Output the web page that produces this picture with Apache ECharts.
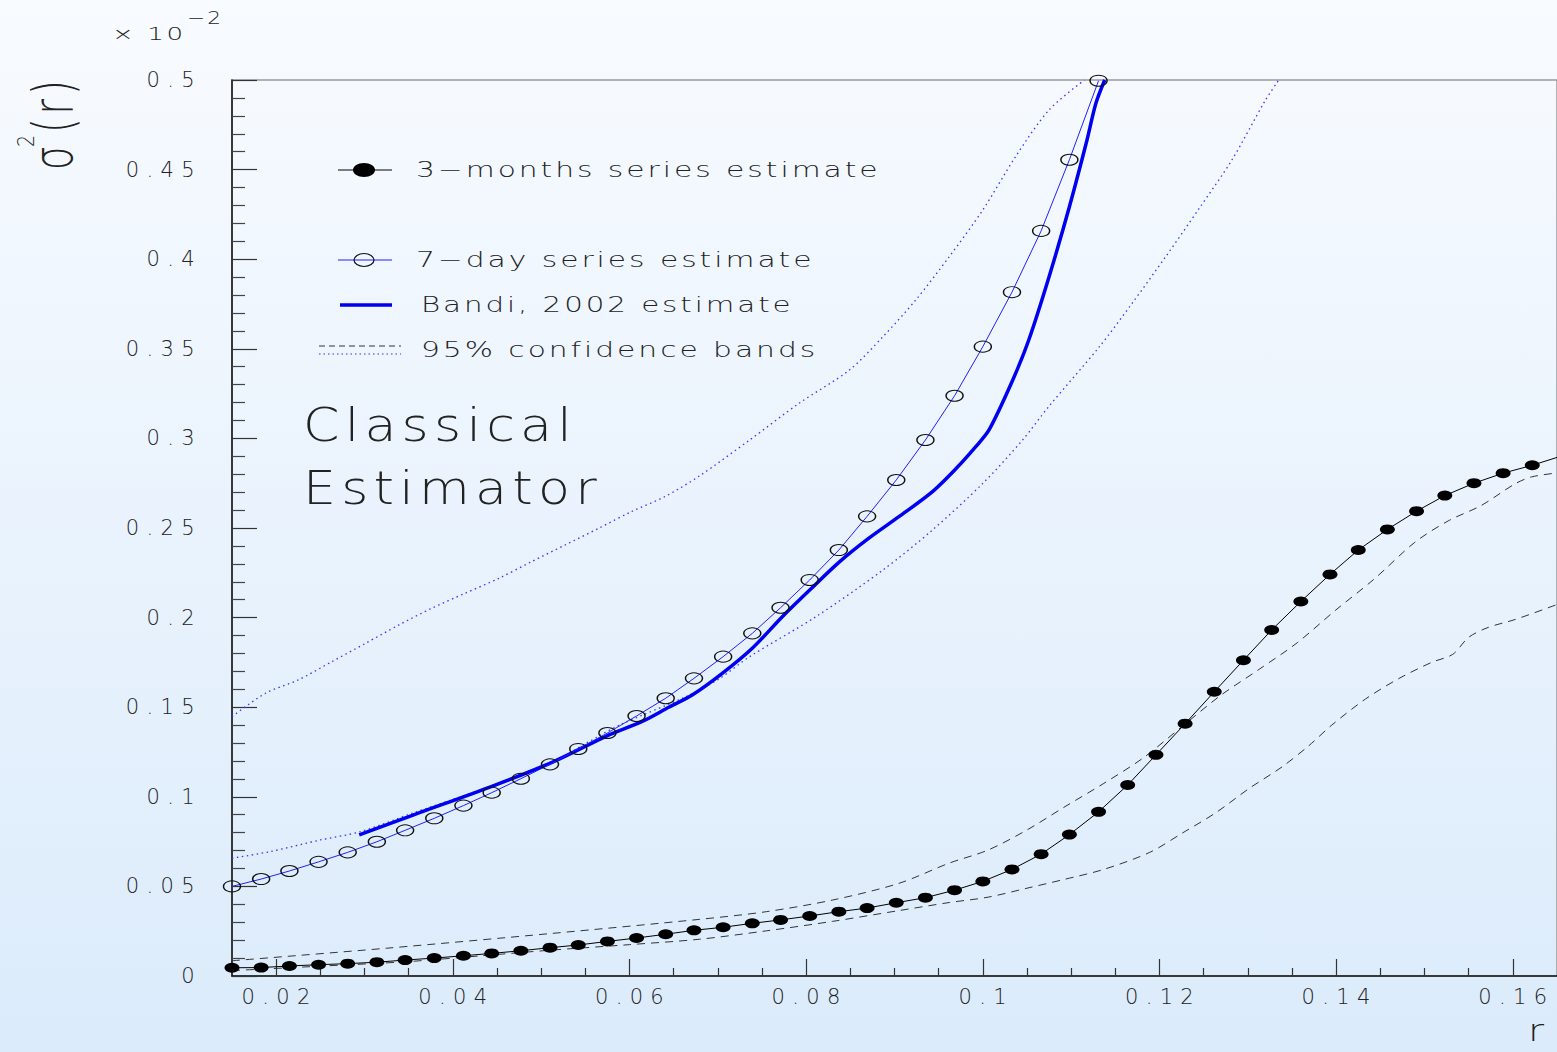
<!DOCTYPE html>
<html>
<head>
<meta charset="utf-8">
<script src="https://cdn.jsdelivr.net/npm/echarts@6/dist/echarts.min.js"></script>
<style>
html, body { margin: 0; padding: 0; }
#chart { width: 1557px; height: 1052px; }
#chart text { letter-spacing: 0.1em; }
#chart text[style*="21px"] { letter-spacing: 0.35em; }
</style>
</head>
<body>
<div id="chart"></div>
<script>
// ---- data (sigma^2(r), in units of 1e-2) ----
const rGrid = [0.0150, 0.0183, 0.0215, 0.0248, 0.0281, 0.0314, 0.0346, 0.0379, 0.0412, 0.0444,
  0.0477, 0.0510, 0.0542, 0.0575, 0.0608, 0.0641, 0.0673, 0.0706, 0.0739, 0.0771,
  0.0804, 0.0837, 0.0869, 0.0902, 0.0935, 0.0968, 0.1000, 0.1033, 0.1066, 0.1098,
  0.1131, 0.1164, 0.1196, 0.1229, 0.1262, 0.1295, 0.1327, 0.1360, 0.1393, 0.1425,
  0.1458, 0.1491, 0.1523, 0.1556, 0.1589, 0.1622, 0.1654];

const threeMonths = [0.0046, 0.0047, 0.0056, 0.0063, 0.0069, 0.0077, 0.0089, 0.0100, 0.0113, 0.0126,
  0.0141, 0.0158, 0.0173, 0.0193, 0.0212, 0.0233, 0.0255, 0.0272, 0.0294, 0.0313,
  0.0335, 0.0359, 0.0379, 0.0409, 0.0437, 0.0479, 0.0528, 0.0595, 0.0680, 0.0789,
  0.0916, 0.1066, 0.1234, 0.1408, 0.1586, 0.1762, 0.1931, 0.2090, 0.2241, 0.2377,
  0.2492, 0.2594, 0.2681, 0.2750, 0.2806, 0.2850, 0.2900];

const sevenDay = [0.0500, 0.0541, 0.0586, 0.0637, 0.0690, 0.0749, 0.0813, 0.0880, 0.0951, 0.1023,
  0.1101, 0.1181, 0.1267, 0.1356, 0.1451, 0.1550, 0.1661, 0.1782, 0.1912, 0.2055,
  0.2210, 0.2377, 0.2565, 0.2768, 0.2991, 0.3238, 0.3512, 0.3816, 0.4158, 0.4555, 0.4996];

const bandi = [[0.0294,0.0787],[0.0355,0.0898],[0.0445,0.1060],[0.0513,0.1194],[0.0574,0.1339],
  [0.0615,0.1422],[0.0645,0.1501],[0.0671,0.1568],[0.0705,0.1689],[0.0739,0.1829],
  [0.0773,0.2005],[0.0804,0.2154],[0.0838,0.2312],[0.0871,0.2443],[0.0905,0.2563],
  [0.0943,0.2703],[0.0970,0.2833],[0.0992,0.2954],[0.1007,0.3047],[0.1033,0.3316],
  [0.1052,0.3549],[0.1075,0.3902],[0.1098,0.4293],[0.1117,0.4647],[0.1128,0.4870],[0.1138,0.5000]];

const band7Upper = [[0.0150,0.1447],[0.0188,0.1578],[0.0225,0.1652],[0.0263,0.1754],[0.0301,0.1856],
  [0.0339,0.1959],[0.0376,0.2052],[0.0414,0.2136],[0.0452,0.2219],[0.0489,0.2312],
  [0.0527,0.2405],[0.0565,0.2498],[0.0602,0.2591],[0.0640,0.2675],[0.0679,0.2790],
  [0.0736,0.2991],[0.0792,0.3196],[0.0849,0.3382],[0.0887,0.3568],[0.0924,0.3772],
  [0.0962,0.4014],[0.1000,0.4275],[0.1037,0.4572],[0.1075,0.4833],[0.1115,0.5000]];

const band7Lower = [[0.0150,0.0657],[0.0193,0.0694],[0.0250,0.0759],[0.0295,0.0805],[0.0355,0.0910],
  [0.0397,0.0980],[0.0453,0.1077],[0.0510,0.1183],[0.0551,0.1299],[0.0589,0.1401],
  [0.0664,0.1559],[0.0702,0.1660],[0.0736,0.1782],[0.0811,0.2005],[0.0887,0.2266],
  [0.0943,0.2489],[0.1000,0.2749],[0.1045,0.2991],[0.1075,0.3180],[0.1132,0.3512],
  [0.1169,0.3754],[0.1207,0.4014],[0.1245,0.4284],[0.1282,0.4554],[0.1320,0.4888],[0.1335,0.5000]];

const band3Upper = [[0.0150,0.0085],[0.0325,0.0155],[0.0513,0.0238],[0.0679,0.0316],[0.0755,0.0359],
  [0.0830,0.0424],[0.0905,0.0517],[0.0962,0.0630],[0.1006,0.0703],[0.1050,0.0815],
  [0.1093,0.0945],[0.1137,0.1075],[0.1181,0.1215],[0.1225,0.1390],[0.1269,0.1565],
  [0.1313,0.1712],[0.1356,0.1860],[0.1399,0.2040],[0.1443,0.2215],[0.1489,0.2420],
  [0.1527,0.2540],[0.1564,0.2625],[0.1602,0.2745],[0.1621,0.2785],[0.1650,0.2807]];

const band3Lower = [[0.0150,0.0030],[0.0250,0.0055],[0.0348,0.0080],[0.0430,0.0112],[0.0513,0.0145],
  [0.0600,0.0175],[0.0679,0.0205],[0.0755,0.0252],[0.0830,0.0305],[0.0905,0.0365],
  [0.0962,0.0410],[0.1006,0.0440],[0.1050,0.0490],[0.1093,0.0540],[0.1137,0.0595],
  [0.1189,0.0690],[0.1226,0.0798],[0.1264,0.0912],[0.1301,0.1045],[0.1339,0.1168],
  [0.1369,0.1285],[0.1395,0.1400],[0.1433,0.1545],[0.1471,0.1660],[0.1508,0.1750],
  [0.1532,0.1795],[0.1550,0.1890],[0.1572,0.1945],[0.1603,0.1990],[0.1650,0.2073]];

const xMajorTicks = [0.02, 0.04, 0.06, 0.08, 0.1, 0.12, 0.14, 0.16];
const xMinorTicks = [0.025, 0.03, 0.035, 0.045, 0.05, 0.055, 0.065, 0.07, 0.075, 0.085, 0.09, 0.095,
  0.105, 0.11, 0.115, 0.125, 0.13, 0.135, 0.145, 0.15, 0.155];

const legendLabels = ['3\u2212months series estimate', '7\u2212day series estimate',
  'Bandi, 2002 estimate', '95% confidence bands'];

// ---- chart ----
const FAM = '"DejaVu Sans"';
const TXT = '#222';
const chart = echarts.init(document.getElementById('chart'), null, { renderer: 'svg' });

function txt(x, y, text, size, extra) {
  return Object.assign({
    type: 'text', x: x, y: y, silent: true,
    style: { text: text, font: '200 ' + size + 'px ' + FAM, fill: TXT,
      align: 'left', verticalAlign: 'middle', textAlign: 'left', textVerticalAlign: 'middle' }
  }, extra || {});
}

const gridRect = { left: 232, top: 80, width: 1327, height: 896 };

const option = {
  animation: false,
  backgroundColor: { type: 'linear', x: 0, y: 0, x2: 0, y2: 1,
    colorStops: [{ offset: 0, color: '#f8fbff' }, { offset: 1, color: '#dbebfb' }] },
  grid: [
    Object.assign({ show: true, borderColor: '#999', borderWidth: 1.5, backgroundColor: 'transparent' }, gridRect),
    Object.assign({ show: false }, gridRect)
  ],
  xAxis: [
    { gridIndex: 0, type: 'value', min: 0.015, max: 0.165, position: 'bottom',
      axisLine: { show: true, onZero: false, lineStyle: { color: '#111', width: 1.5 } },
      axisTick: { show: true, inside: true, length: 17, customValues: xMajorTicks,
        lineStyle: { color: '#333', width: 1.2 } },
      axisLabel: { show: true, customValues: xMajorTicks, fontSize: 21, fontFamily: 'DejaVu Sans',
        fontWeight: 200, color: TXT, margin: 10, padding: [0, 0, 0, 7] },
      splitLine: { show: false } },
    { gridIndex: 1, type: 'value', min: 0.015, max: 0.165, position: 'bottom',
      axisLine: { show: false },
      axisTick: { show: true, inside: true, length: 8, customValues: xMinorTicks,
        lineStyle: { color: '#333', width: 1.2 } },
      axisLabel: { show: false }, splitLine: { show: false } }
  ],
  yAxis: [
    { gridIndex: 0, type: 'value', min: 0, max: 0.5, interval: 0.05,
      axisLine: { show: true, onZero: false, lineStyle: { color: '#111', width: 1.5 } },
      axisTick: { show: true, inside: true, length: 25, lineStyle: { color: '#333', width: 1.2 } },
      minorTick: { show: true, splitNumber: 5, length: 13, lineStyle: { color: '#444', width: 1.2 } },
      axisLabel: { fontSize: 21, fontFamily: 'DejaVu Sans', fontWeight: 200, color: TXT, margin: 30 },
      splitLine: { show: false }, minorSplitLine: { show: false } },
    { gridIndex: 1, type: 'value', min: 0, max: 0.5, show: false }
  ],
  series: [
    { name: 'band7Upper', type: 'line', data: band7Upper, symbol: 'none', smooth: 0.3, silent: true,
      lineStyle: { color: '#3535ff', width: 1.3, type: [1.5, 3.5] }, z: 2 },
    { name: 'band7Lower', type: 'line', data: band7Lower, symbol: 'none', smooth: 0.3, silent: true,
      lineStyle: { color: '#3535ff', width: 1.3, type: [1.5, 3.5] }, z: 2 },
    { name: 'band3Upper', type: 'line', data: band3Upper, symbol: 'none', smooth: 0.3, silent: true,
      lineStyle: { color: '#333', width: 1, type: [8, 6] }, z: 2 },
    { name: 'band3Lower', type: 'line', data: band3Lower, symbol: 'none', smooth: 0.3, silent: true,
      lineStyle: { color: '#333', width: 1, type: [8, 6] }, z: 2 },
    { name: 'Bandi, 2002 estimate', type: 'line', data: bandi, symbol: 'none', smooth: 0.3, silent: true,
      lineStyle: { color: '#0000f0', width: 3.5 }, z: 3 },
    { name: '7-day series estimate', type: 'line', data: rGrid.slice(0, sevenDay.length).map((x, i) => [x, sevenDay[i]]),
      symbol: 'circle', symbolSize: [17, 11], silent: true,
      itemStyle: { color: 'rgba(0,0,0,0)', borderColor: '#111', borderWidth: 1.2 },
      lineStyle: { color: '#2020ff', width: 1 }, z: 4 },
    { name: '3-months series estimate', type: 'line', data: rGrid.map((x, i) => [x, threeMonths[i]]),
      symbol: 'circle', symbolSize: [15, 10], silent: true,
      itemStyle: { color: '#000' }, lineStyle: { color: '#000', width: 1 }, z: 5 }
  ],
  graphic: [
    // exponent
    txt(112, 34, '\u00d7 10', 18, { scaleX: 1.45 }),
    txt(187, 18, '\u22122', 18, { scaleX: 1.2 }),
    // y title  sigma^2(r)
    txt(53, 170, '\u03c3', 38, { rotation: Math.PI / 2, scaleY: 1.45 }),
    txt(26, 147, '2', 19, { rotation: Math.PI / 2, scaleY: 1.25 }),
    txt(53, 133, '(r)', 38, { rotation: Math.PI / 2, scaleY: 1.45 }),
    // x title
    txt(1528, 1031, 'r', 30, { scaleX: 1.3 }),
    // annotation
    txt(303, 425, 'Classical', 46, { scaleX: 1.135 }),
    txt(303, 488, 'Estimator', 46, { scaleX: 1.135 }),
    // legend
    { type: 'line', silent: true, shape: { x1: 338, y1: 170, x2: 392, y2: 170 }, style: { stroke: '#000', lineWidth: 1 } },
    { type: 'ellipse', silent: true, shape: { cx: 364, cy: 170, rx: 11, ry: 7 }, style: { fill: '#000' } },
    txt(416, 170, legendLabels[0], 20.5, { scaleX: 1.45 }),
    { type: 'line', silent: true, shape: { x1: 338, y1: 260, x2: 392, y2: 260 }, style: { stroke: '#2020ff', lineWidth: 1 } },
    { type: 'ellipse', silent: true, shape: { cx: 364, cy: 260, rx: 10, ry: 6.5 }, style: { fill: 'none', stroke: '#111', lineWidth: 1.2 } },
    txt(416, 260, legendLabels[1], 20.5, { scaleX: 1.45 }),
    { type: 'line', silent: true, shape: { x1: 340, y1: 305, x2: 392, y2: 305 }, style: { stroke: '#0000f0', lineWidth: 3.5 } },
    txt(421, 305, legendLabels[2], 20.5, { scaleX: 1.43 }),
    { type: 'line', silent: true, shape: { x1: 319, y1: 346, x2: 401, y2: 346 }, style: { stroke: '#333', lineWidth: 1, lineDash: [6, 4] } },
    { type: 'line', silent: true, shape: { x1: 319, y1: 354, x2: 401, y2: 354 }, style: { stroke: '#3535ff', lineWidth: 1.2, lineDash: [1.5, 3] } },
    txt(421, 350, legendLabels[3], 20.5, { scaleX: 1.45 })
  ]
};
chart.setOption(option);
</script>
</body>
</html>
